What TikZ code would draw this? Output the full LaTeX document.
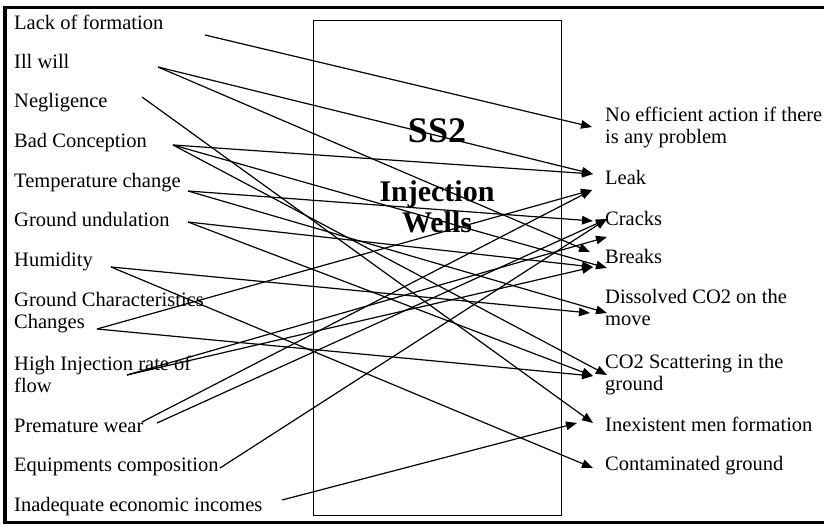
\documentclass[tikz,border=0pt]{standalone}
\usepackage{fontspec}
\setmainfont{Liberation Serif}
\usetikzlibrary{arrows.meta}
\begin{document}
\begin{tikzpicture}[x=1pt,y=-1pt,
  lbl/.style={anchor=base west, inner sep=0pt, font=\fontsize{20.5}{22}\selectfont},
  conn/.style={line width=1.2pt, -{Triangle[length=11pt,width=8.5pt]}},
  ttl/.style={anchor=base, inner sep=0pt, font=\bfseries\fontsize{30}{31}\selectfont}]
\useasboundingbox (0,0) rectangle (824,526);
\fill[white] (0,0) rectangle (824,526);
% frame
\draw[line width=3.5pt] (830,7.5) -- (5,7.5) -- (5,522.5) -- (830,522.5);
\node[draw, line width=1pt, minimum width=248pt, minimum height=495pt, anchor=north west, inner sep=0pt] (box) at (313,20) {};
% title
\node[ttl, font=\bfseries\fontsize{36}{38}\selectfont] (ss2) at (437,143) {SS2};
\node[ttl] (inj) at (437,202) {\begin{tabular}[t]{@{}c@{}}Injection\\Wells\end{tabular}};
% left labels
\node[lbl] (lack) at (14,30) {Lack of formation};
\node[lbl] (ill) at (14,69) {Ill will};
\node[lbl] (neg) at (14,108) {Negligence};
\node[lbl] (bad) at (14,148) {Bad Conception};
\node[lbl] (temp) at (14,188) {Temperature change};
\node[lbl] (und) at (14,227) {Ground undulation};
\node[lbl] (hum) at (14,267) {Humidity};
\node[lbl] (gcc) at (14,307) {\begin{tabular}[t]{@{}l@{}}Ground Characteristics\\Changes\end{tabular}};
\node[lbl] (hir) at (14,370) {\begin{tabular}[t]{@{}l@{}}High Injection rate of\\flow\end{tabular}};
\node[lbl] (pw) at (14,432) {Premature wear};
\node[lbl] (eq) at (14,471) {Equipments composition};
\node[lbl] (inad) at (14,511) {Inadequate economic incomes};
% right labels
\node[lbl] (noeff) at (605,122) {\begin{tabular}[t]{@{}l@{}}No efficient action if there\\is any problem\end{tabular}};
\node[lbl] (leak) at (605,185) {Leak};
\node[lbl] (cracks) at (605,226) {Cracks};
\node[lbl] (breaks) at (605,264) {Breaks};
\node[lbl] (diss) at (605,304) {\begin{tabular}[t]{@{}l@{}}Dissolved CO2 on the\\move\end{tabular}};
\node[lbl] (scat) at (605,368) {\begin{tabular}[t]{@{}l@{}}CO2 Scattering in the\\ground\end{tabular}};
\node[lbl] (inex) at (605,431) {Inexistent men formation};
\node[lbl] (cont) at (605,470) {Contaminated ground};
% start points
\coordinate (s-lack) at (205,35);
\coordinate (s-ill) at (158,67);
\coordinate (s-neg) at (142,97);
\coordinate (s-bad) at (173,145);
\coordinate (s-temp) at (188,191);
\coordinate (s-und) at (188,222);
\coordinate (s-hum) at (111,267);
\coordinate (s-gcc) at (97,329);
\coordinate (s-hir) at (127,375);
\coordinate (s-pwa) at (142,422);
\coordinate (s-pwb) at (157,423);
\coordinate (s-eq) at (220,468);
\coordinate (s-inad) at (282,500);
% end points
\coordinate (e-a) at (592,127);
\coordinate (e-b) at (593,174);
\coordinate (e-c) at (592,190);
\coordinate (e-d) at (593,221);
\coordinate (e-e) at (607,219);
\coordinate (e-f) at (607,237);
\coordinate (e-g) at (590,252);
\coordinate (e-h) at (593,267);
\coordinate (e-i) at (607,268);
\coordinate (e-j) at (590,313);
\coordinate (e-k) at (607,313);
\coordinate (e-l) at (593,376);
\coordinate (e-m) at (607,375);
\coordinate (e-n) at (593,423);
\coordinate (e-o) at (577,423);
\coordinate (e-p) at (593,468);
% connectors
\draw[conn] (s-lack) -- (e-a);
\draw[conn] (s-ill) -- (e-b);
\draw[conn] (s-ill) -- (e-g);
\draw[conn] (s-neg) -- (e-n);
\draw[conn] (s-bad) -- (e-b);
\draw[conn] (s-bad) -- (e-i);
\draw[conn] (s-bad) -- (e-m);
\draw[conn] (s-temp) -- (e-d);
\draw[conn] (s-temp) -- (e-k);
\draw[conn] (s-und) -- (e-h);
\draw[conn] (s-und) -- (e-l);
\draw[conn] (s-hum) -- (e-j);
\draw[conn] (s-hum) -- (e-p);
\draw[conn] (s-gcc) -- (e-c);
\draw[conn] (s-gcc) -- (e-l);
\draw[conn] (s-hir) -- (e-f);
\draw[conn] (s-hir) -- (e-h);
\draw[conn] (s-pwa) -- (e-c);
\draw[conn] (s-pwb) -- (e-e);
\draw[conn] (s-eq) -- (e-e);
\draw[conn] (s-inad) -- (e-o);
\end{tikzpicture}
\end{document}
